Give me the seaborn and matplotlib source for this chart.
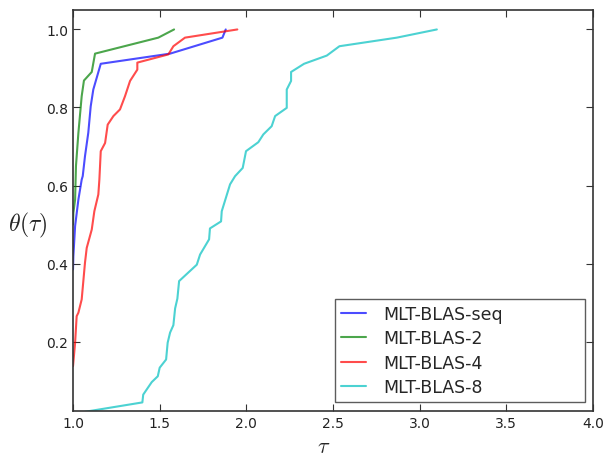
import numpy as np
import pandas as pd
import matplotlib
matplotlib.use("Agg")
import matplotlib.pyplot as plt
import seaborn as sns

# performance profile values (tau, theta)
seq_tau = [1.000, 1.002, 1.012, 1.031, 1.050, 1.056, 1.069, 1.088, 1.102, 1.117, 1.160, 1.560, 1.862, 1.881]
seq_theta = [0.385, 0.419, 0.496, 0.564, 0.615, 0.624, 0.675, 0.735, 0.803, 0.846, 0.912, 0.938, 0.979, 1.000]

two_tau = [1.000, 1.002, 1.012, 1.017, 1.031, 1.050, 1.063, 1.108, 1.127, 1.492, 1.583]
two_theta = [0.500, 0.530, 0.564, 0.650, 0.735, 0.829, 0.869, 0.891, 0.938, 0.979, 1.000]

four_tau = [1.000, 1.012, 1.021, 1.031, 1.050, 1.069, 1.079, 1.108, 1.123, 1.146, 1.152,
            1.160, 1.185, 1.200, 1.233, 1.271, 1.300, 1.329, 1.371, 1.371, 1.550, 1.579, 1.646, 1.948]
four_theta = [0.137, 0.197, 0.265, 0.274, 0.308, 0.402, 0.440, 0.487, 0.534, 0.577, 0.615,
              0.688, 0.709, 0.756, 0.778, 0.795, 0.829, 0.868, 0.897, 0.915, 0.936, 0.957, 0.979, 1.000]

eight_tau = [1.070, 1.400, 1.405, 1.454, 1.489, 1.500, 1.537, 1.546, 1.560, 1.579, 1.589, 1.602,
             1.612, 1.714, 1.733, 1.785, 1.790, 1.854, 1.858, 1.906, 1.935, 1.979, 1.998, 2.069,
             2.098, 2.146, 2.166, 2.233, 2.233, 2.258, 2.258, 2.333, 2.464, 2.537, 2.868, 3.099]
eight_theta = [0.020, 0.044, 0.064, 0.096, 0.111, 0.133, 0.154, 0.197, 0.223, 0.242, 0.285, 0.310,
               0.355, 0.397, 0.423, 0.462, 0.490, 0.508, 0.534, 0.603, 0.624, 0.645, 0.688, 0.711,
               0.731, 0.752, 0.778, 0.799, 0.846, 0.868, 0.891, 0.912, 0.933, 0.957, 0.979, 1.000]

labels = ['MLT-BLAS-seq', 'MLT-BLAS-2', 'MLT-BLAS-4', 'MLT-BLAS-8']
colors = ['b', 'g', 'r', 'c']

frames = []
for lab, t, th in zip(labels,
                      [seq_tau, two_tau, four_tau, eight_tau],
                      [seq_theta, two_theta, four_theta, eight_theta]):
    frames.append(pd.DataFrame({'tau': t, 'theta': th, 'solver': lab}))
df = pd.concat(frames, ignore_index=True)

sns.set_style("ticks")
plt.rcParams['font.family'] = ['DejaVu Sans']
plt.rcParams['mathtext.fontset'] = 'cm'

fig = plt.figure(figsize=(6.05, 4.56), dpi=100)
ax = fig.add_axes([0.1207, 0.0965, 0.8595, 0.8795])

sns.lineplot(data=df, x='tau', y='theta', hue='solver', palette=dict(zip(labels, colors)),
             hue_order=labels, estimator=None, sort=False, units='solver',
             linewidth=1.5, alpha=0.7, ax=ax)

ax.set_xlim(1.0, 4.0)
ax.set_ylim(0.022, 1.05)
ax.set_xticks(np.arange(1.0, 4.01, 0.5))
ax.set_yticks([0.2, 0.4, 0.6, 0.8, 1.0])
ax.tick_params(direction='in', top=True, right=True, labelsize=10, length=5,
               colors='#333333', labelcolor='#222222')
for s in ax.spines.values():
    s.set_visible(True)
    s.set_color('#333333')
    s.set_linewidth(1.2)

ax.set_xlabel(r'$\tau$', fontsize=16, va='top')
ax.xaxis.set_label_coords(0.483, -0.062)
ax.set_ylabel(r'$\theta(\tau)$', fontsize=17, rotation=0, va='center', ha='center')
ax.yaxis.set_label_coords(-0.087, 0.464)

leg = ax.legend(loc='lower left', bbox_to_anchor=(0.504, 0.0224, 0.481, 0.25), mode='expand',
                fontsize=12.5, frameon=True, fancybox=False, handlelength=1.45,
                handletextpad=1.0, labelspacing=0.36, borderpad=0.35, borderaxespad=0)
leg.get_frame().set_edgecolor('#333333')
leg.get_frame().set_linewidth(1.0)
leg.set_title(None)

fig.savefig('out.png', dpi=100)
